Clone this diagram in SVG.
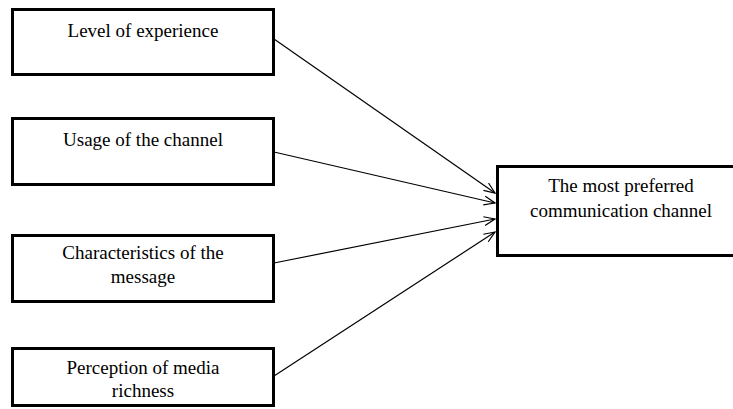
<svg xmlns="http://www.w3.org/2000/svg" width="733" height="409" viewBox="0 0 733 409">
<style>
.box{fill:#fff;stroke:#000;stroke-width:3}
.t{font-family:"Liberation Serif","Times New Roman",serif;font-size:19px;fill:#000;text-anchor:middle}
.c{stroke:#000;stroke-width:1.2;fill:none}
</style>
<defs>
<marker id="a" markerUnits="userSpaceOnUse" markerWidth="14" markerHeight="12" refX="11" refY="5" orient="auto" viewBox="0 0 14 10">
<path d="M0,0.5 L11,5 L0,9.5" fill="none" stroke="#000" stroke-width="1.2"/>
</marker>
</defs>
<rect width="733" height="409" fill="#fff"/>
<g id="connectors">
<line class="c" x1="274" y1="39" x2="495" y2="193" marker-end="url(#a)"/>
<line class="c" x1="274" y1="152" x2="495" y2="203" marker-end="url(#a)"/>
<line class="c" x1="274" y1="263" x2="495" y2="219" marker-end="url(#a)"/>
<line class="c" x1="274" y1="376" x2="495" y2="232" marker-end="url(#a)"/>
</g>
<g id="n1">
<rect class="box" x="12.5" y="9.5" width="261" height="65"/>
<text class="t" x="143" y="37">Level of experience</text>
</g>
<g id="n2">
<rect class="box" x="12.5" y="118.5" width="261" height="66"/>
<text class="t" x="143" y="146">Usage of the channel</text>
</g>
<g id="n3">
<rect class="box" x="12.5" y="235.5" width="261" height="66"/>
<text class="t" x="143" y="259">Characteristics of the</text>
<text class="t" x="143" y="283">message</text>
</g>
<g id="n4">
<rect class="box" x="12.5" y="348.5" width="261" height="57"/>
<text class="t" x="143" y="374">Perception of media</text>
<text class="t" x="143" y="397">richness</text>
</g>
<g id="n5">
<rect class="box" x="497.5" y="166.5" width="250" height="89"/>
<text class="t" x="621" y="192">The most preferred</text>
<text class="t" x="621" y="217">communication channel</text>
</g>
</svg>
